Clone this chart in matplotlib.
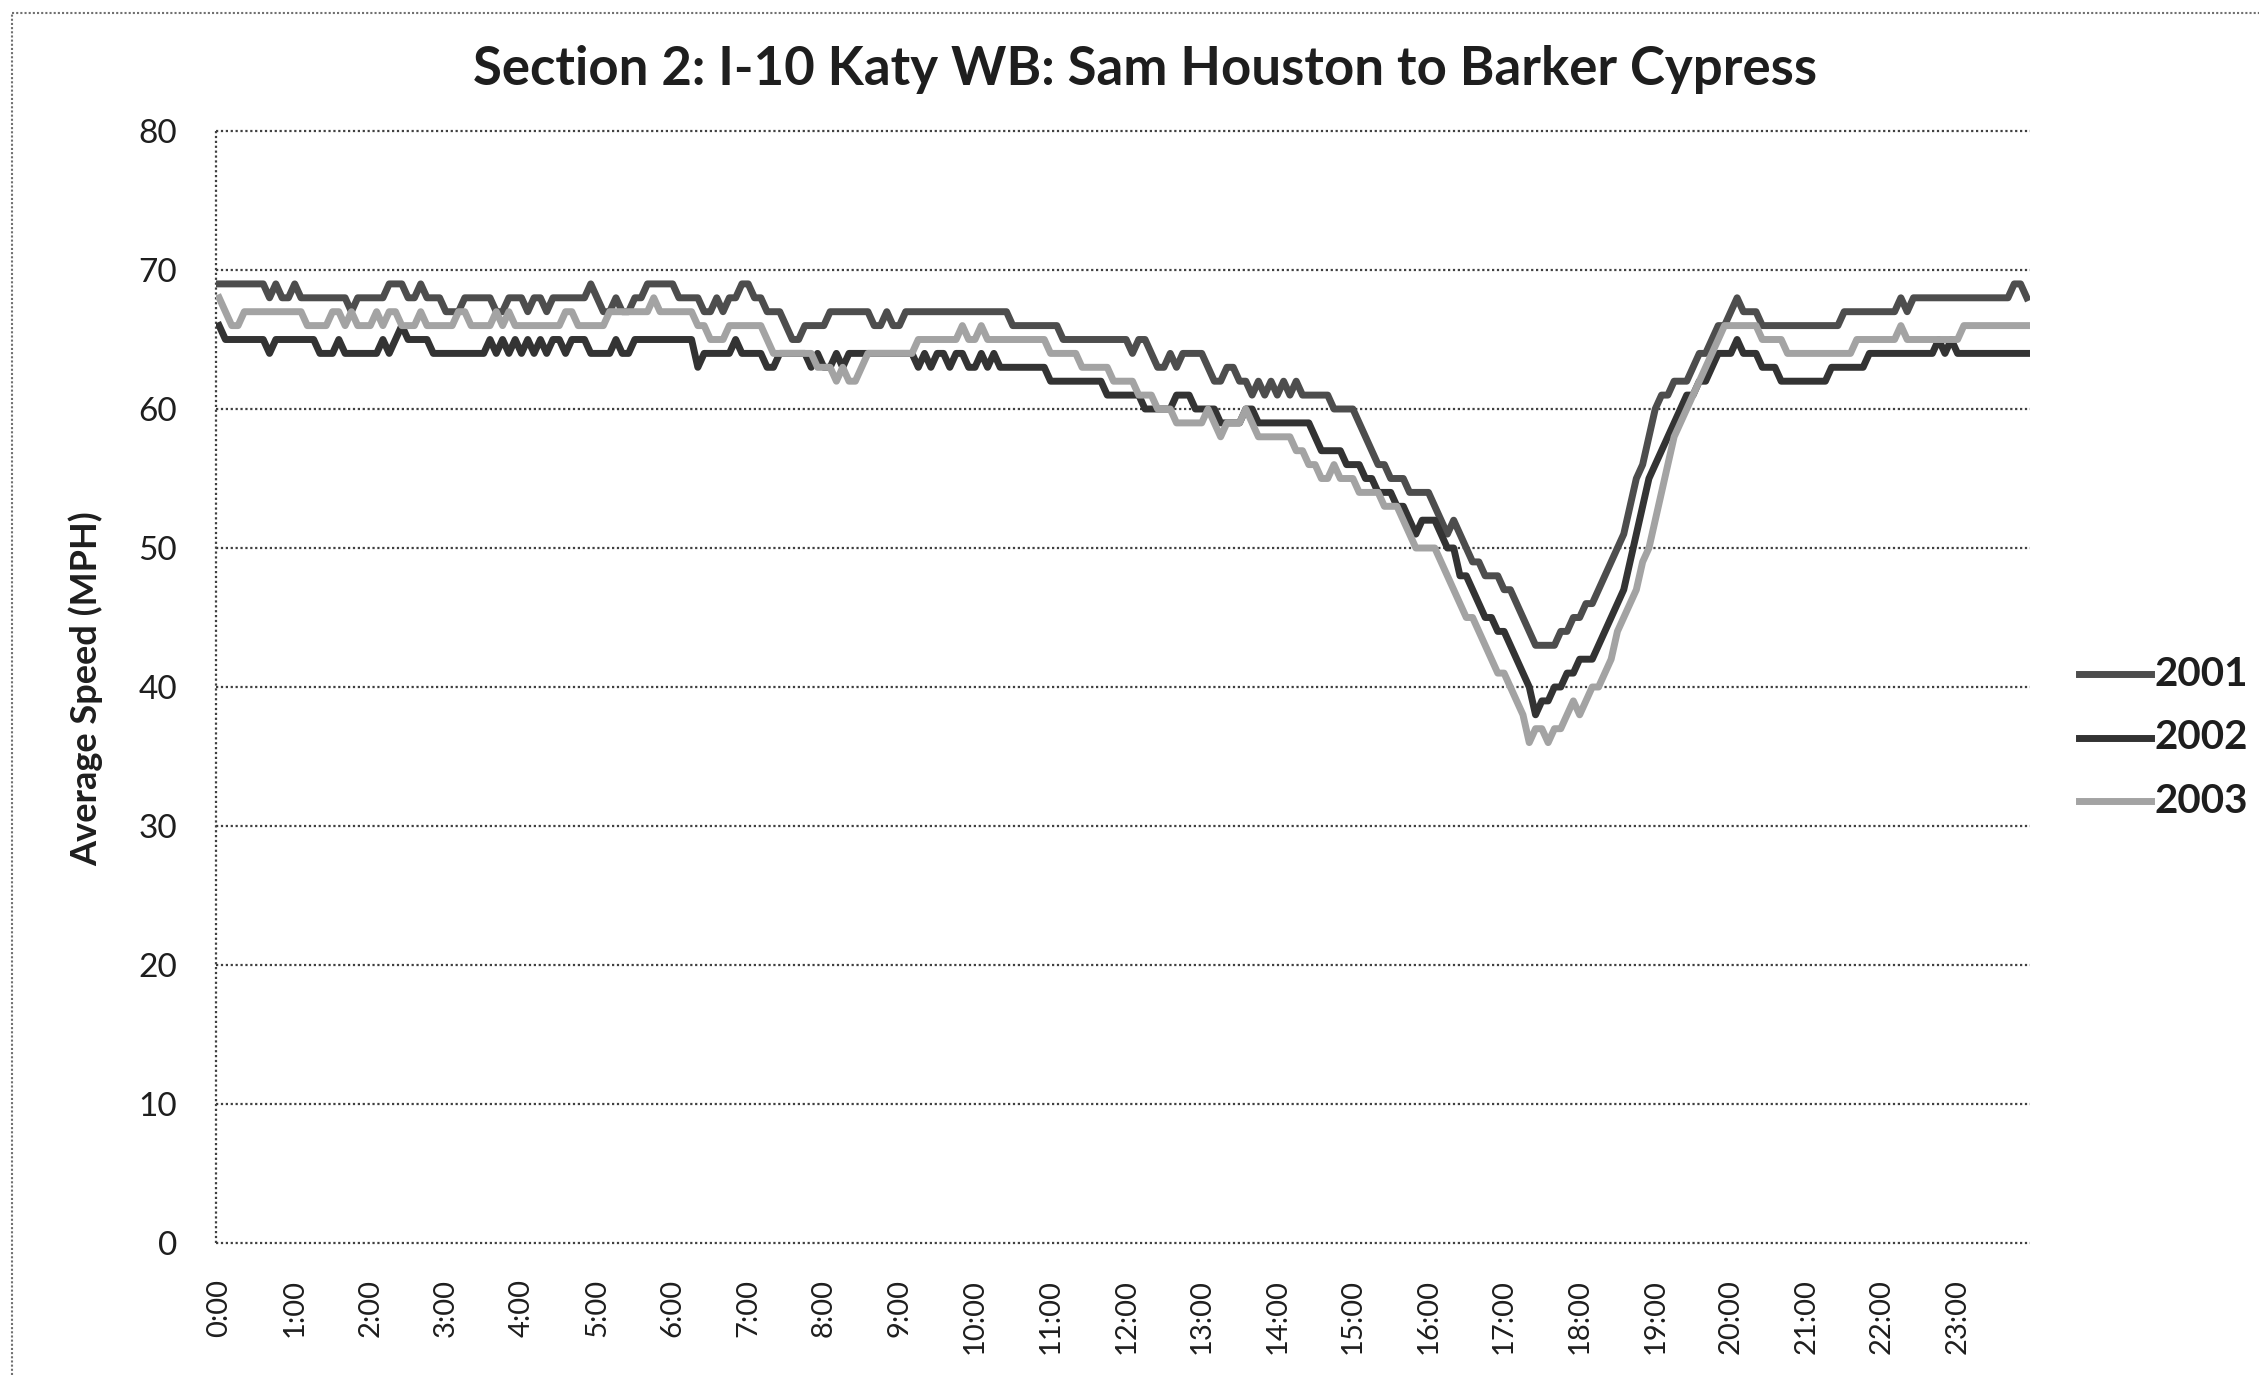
import matplotlib
matplotlib.use("Agg")
import matplotlib.pyplot as plt
from matplotlib.lines import Line2D
import numpy as np

plt.rcParams["font.family"] = ["Lato", "DejaVu Sans"]

title = "Section 2: I-10 Katy WB: Sam Houston to Barker Cypress"
y_label = "Average Speed (MPH)"
years = ["2001", "2002", "2003"]

hour_labels = ["0:00", "1:00", "2:00", "3:00", "4:00", "5:00", "6:00", "7:00",
               "8:00", "9:00", "10:00", "11:00", "12:00", "13:00", "14:00", "15:00",
               "16:00", "17:00", "18:00", "19:00", "20:00", "21:00", "22:00", "23:00"]

# average speed in 5 minute bins, one row per hour
speed_2001 = [
    69, 69, 69, 69, 69, 69, 69, 69, 68, 69, 68, 68,
    69, 68, 68, 68, 68, 68, 68, 68, 68, 67, 68, 68,
    68, 68, 68, 69, 69, 69, 68, 68, 69, 68, 68, 68,
    67, 67, 67, 68, 68, 68, 68, 68, 67, 67, 68, 68,
    68, 67, 68, 68, 67, 68, 68, 68, 68, 68, 68, 69,
    68, 67, 67, 68, 67, 67, 68, 68, 69, 69, 69, 69,
    69, 68, 68, 68, 68, 67, 67, 68, 67, 68, 68, 69,
    69, 68, 68, 67, 67, 67, 66, 65, 65, 66, 66, 66,
    66, 67, 67, 67, 67, 67, 67, 67, 66, 66, 67, 66,
    66, 67, 67, 67, 67, 67, 67, 67, 67, 67, 67, 67,
    67, 67, 67, 67, 67, 67, 66, 66, 66, 66, 66, 66,
    66, 66, 65, 65, 65, 65, 65, 65, 65, 65, 65, 65,
    65, 64, 65, 65, 64, 63, 63, 64, 63, 64, 64, 64,
    64, 63, 62, 62, 63, 63, 62, 62, 61, 62, 61, 62,
    61, 62, 61, 62, 61, 61, 61, 61, 61, 60, 60, 60,
    60, 59, 58, 57, 56, 56, 55, 55, 55, 54, 54, 54,
    54, 53, 52, 51, 52, 51, 50, 49, 49, 48, 48, 48,
    47, 47, 46, 45, 44, 43, 43, 43, 43, 44, 44, 45,
    45, 46, 46, 47, 48, 49, 50, 51, 53, 55, 56, 58,
    60, 61, 61, 62, 62, 62, 63, 64, 64, 65, 66, 66,
    67, 68, 67, 67, 67, 66, 66, 66, 66, 66, 66, 66,
    66, 66, 66, 66, 66, 66, 67, 67, 67, 67, 67, 67,
    67, 67, 67, 68, 67, 68, 68, 68, 68, 68, 68, 68,
    68, 68, 68, 68, 68, 68, 68, 68, 68, 69, 69, 68,
]

speed_2002 = [
    66, 65, 65, 65, 65, 65, 65, 65, 64, 65, 65, 65,
    65, 65, 65, 65, 64, 64, 64, 65, 64, 64, 64, 64,
    64, 64, 65, 64, 65, 66, 65, 65, 65, 65, 64, 64,
    64, 64, 64, 64, 64, 64, 64, 65, 64, 65, 64, 65,
    64, 65, 64, 65, 64, 65, 65, 64, 65, 65, 65, 64,
    64, 64, 64, 65, 64, 64, 65, 65, 65, 65, 65, 65,
    65, 65, 65, 65, 63, 64, 64, 64, 64, 64, 65, 64,
    64, 64, 64, 63, 63, 64, 64, 64, 64, 64, 63, 64,
    63, 63, 64, 63, 64, 64, 64, 64, 64, 64, 64, 64,
    64, 64, 64, 63, 64, 63, 64, 64, 63, 64, 64, 63,
    63, 64, 63, 64, 63, 63, 63, 63, 63, 63, 63, 63,
    62, 62, 62, 62, 62, 62, 62, 62, 62, 61, 61, 61,
    61, 61, 61, 60, 60, 60, 60, 60, 61, 61, 61, 60,
    60, 60, 60, 59, 59, 59, 59, 60, 60, 59, 59, 59,
    59, 59, 59, 59, 59, 59, 58, 57, 57, 57, 57, 56,
    56, 56, 55, 55, 54, 54, 54, 53, 53, 52, 51, 52,
    52, 52, 51, 50, 50, 48, 48, 47, 46, 45, 45, 44,
    44, 43, 42, 41, 40, 38, 39, 39, 40, 40, 41, 41,
    42, 42, 42, 43, 44, 45, 46, 47, 49, 51, 53, 55,
    56, 57, 58, 59, 60, 61, 61, 62, 62, 63, 64, 64,
    64, 65, 64, 64, 64, 63, 63, 63, 62, 62, 62, 62,
    62, 62, 62, 62, 63, 63, 63, 63, 63, 63, 64, 64,
    64, 64, 64, 64, 64, 64, 64, 64, 64, 65, 64, 65,
    64, 64, 64, 64, 64, 64, 64, 64, 64, 64, 64, 64,
]

speed_2003 = [
    68, 67, 66, 66, 67, 67, 67, 67, 67, 67, 67, 67,
    67, 67, 66, 66, 66, 66, 67, 67, 66, 67, 66, 66,
    66, 67, 66, 67, 67, 66, 66, 66, 67, 66, 66, 66,
    66, 66, 67, 67, 66, 66, 66, 66, 67, 66, 67, 66,
    66, 66, 66, 66, 66, 66, 66, 67, 67, 66, 66, 66,
    66, 66, 67, 67, 67, 67, 67, 67, 67, 68, 67, 67,
    67, 67, 67, 67, 66, 66, 65, 65, 65, 66, 66, 66,
    66, 66, 66, 65, 64, 64, 64, 64, 64, 64, 64, 63,
    63, 63, 62, 63, 62, 62, 63, 64, 64, 64, 64, 64,
    64, 64, 64, 65, 65, 65, 65, 65, 65, 65, 66, 65,
    65, 66, 65, 65, 65, 65, 65, 65, 65, 65, 65, 65,
    64, 64, 64, 64, 64, 63, 63, 63, 63, 63, 62, 62,
    62, 62, 61, 61, 61, 60, 60, 60, 59, 59, 59, 59,
    59, 60, 59, 58, 59, 59, 59, 60, 59, 58, 58, 58,
    58, 58, 58, 57, 57, 56, 56, 55, 55, 56, 55, 55,
    55, 54, 54, 54, 54, 53, 53, 53, 52, 51, 50, 50,
    50, 50, 49, 48, 47, 46, 45, 45, 44, 43, 42, 41,
    41, 40, 39, 38, 36, 37, 37, 36, 37, 37, 38, 39,
    38, 39, 40, 40, 41, 42, 44, 45, 46, 47, 49, 50,
    52, 54, 56, 58, 59, 60, 61, 62, 63, 64, 65, 66,
    66, 66, 66, 66, 66, 65, 65, 65, 65, 64, 64, 64,
    64, 64, 64, 64, 64, 64, 64, 64, 65, 65, 65, 65,
    65, 65, 65, 66, 65, 65, 65, 65, 65, 65, 65, 65,
    65, 66, 66, 66, 66, 66, 66, 66, 66, 66, 66, 66,
]

colors = ["#4d4d4d", "#333333", "#a3a3a3"]
text_color = "#1e1e1e"
W, H = 2259, 1375

fig = plt.figure(figsize=(W / 100, H / 100), dpi=100)
ax = fig.add_axes([216 / W, 1 - 1243 / H, (2030 - 216) / W, (1243 - 131) / H])

x = np.arange(len(speed_2001)) + 0.5
for vals, col in zip([speed_2001, speed_2002, speed_2003], colors):
    ax.plot(x, vals, color=col, lw=5, zorder=3)

ax.set_xlim(0, len(speed_2001))
ax.set_ylim(0, 80)

# dotted gridlines, axis line and left border
grid_style = dict(color="#404040", lw=1.6, ls=(0, (1, 1.2)), clip_on=False, zorder=1)
for v in range(0, 81, 10):
    ax.axhline(v, **grid_style)
ax.axvline(0, **grid_style)
for s in ax.spines.values():
    s.set_visible(False)

ax.set_yticks(range(0, 81, 10))
ax.set_xticks(np.arange(24) * 12 + 0.5)
ax.set_xticklabels(hour_labels, rotation=90, fontsize=21, color=text_color)
ax.tick_params(axis="y", length=0, pad=28, labelsize=24, labelcolor=text_color)
ax.tick_params(axis="x", length=0, pad=26)

fig.text(1145 / W, 1 - 69 / H, title, ha="center", va="center",
         fontsize=38, fontweight="bold", color=text_color)
fig.text(86 / W, 1 - 689 / H, y_label, ha="center", va="center", rotation=90,
         fontsize=26, fontweight="bold", color=text_color)

# legend on the right
for i, (lab, col) in enumerate(zip(years, colors)):
    yy = 1 - (674 + 63.5 * i) / H
    fig.add_artist(Line2D([2079 / W, 2151 / W], [yy, yy], color=col, lw=5,
                          transform=fig.transFigure))
    fig.text(2154 / W, yy, lab, ha="left", va="center", fontsize=29,
             fontweight="bold", color=text_color)

# chart border
border = dict(color="#707070", lw=1.5, ls=(0, (1, 1)), transform=fig.transFigure)
fig.add_artist(Line2D([12 / W, 1], [1 - 13 / H, 1 - 13 / H], **border))
fig.add_artist(Line2D([12 / W, 12 / W], [0, 1 - 13 / H], **border))

fig.savefig("out.png", dpi=100, facecolor="white")
